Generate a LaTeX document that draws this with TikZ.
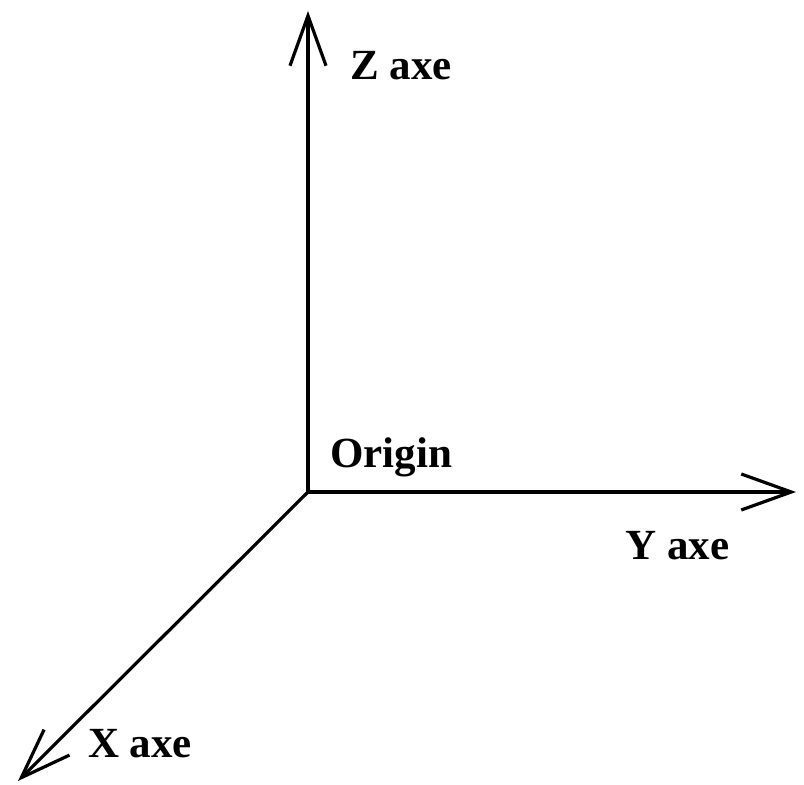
\documentclass[tikz,border=0pt]{standalone}
\usepackage{fontspec}
\setmainfont{Liberation Serif}
\usetikzlibrary{arrows.meta}

\begin{document}
\begin{tikzpicture}[
  x=1pt, y=1pt,
  every node/.style={font=\bfseries\fontsize{43}{50}\selectfont, inner sep=0pt},
  lbl/.style={anchor=base west},
  axis/.style={line width=3.2pt, draw=black,
               -{Straight Barb[length=50pt, width=36pt, line width=3.2pt]}}
]
\useasboundingbox (0,0) rectangle (804,785);

\coordinate (origin) at (308,293);
\coordinate (ztip) at (308,774);
\coordinate (ytip) at (796,293);
\coordinate (xtip) at (18,4);

\node[lbl] (zlbl) at (350,705) {Z axe};
\node[lbl] (olbl) at (330,317) {Origin};
\node[lbl] (ylbl) at (625,225) {Y axe};
\node[lbl] (xlbl) at (88,27) {X axe};

\draw[axis] (origin) -- (ztip);
\draw[axis] (origin) -- (ytip);
\draw[axis] (origin) -- (xtip);
\end{tikzpicture}
\end{document}
